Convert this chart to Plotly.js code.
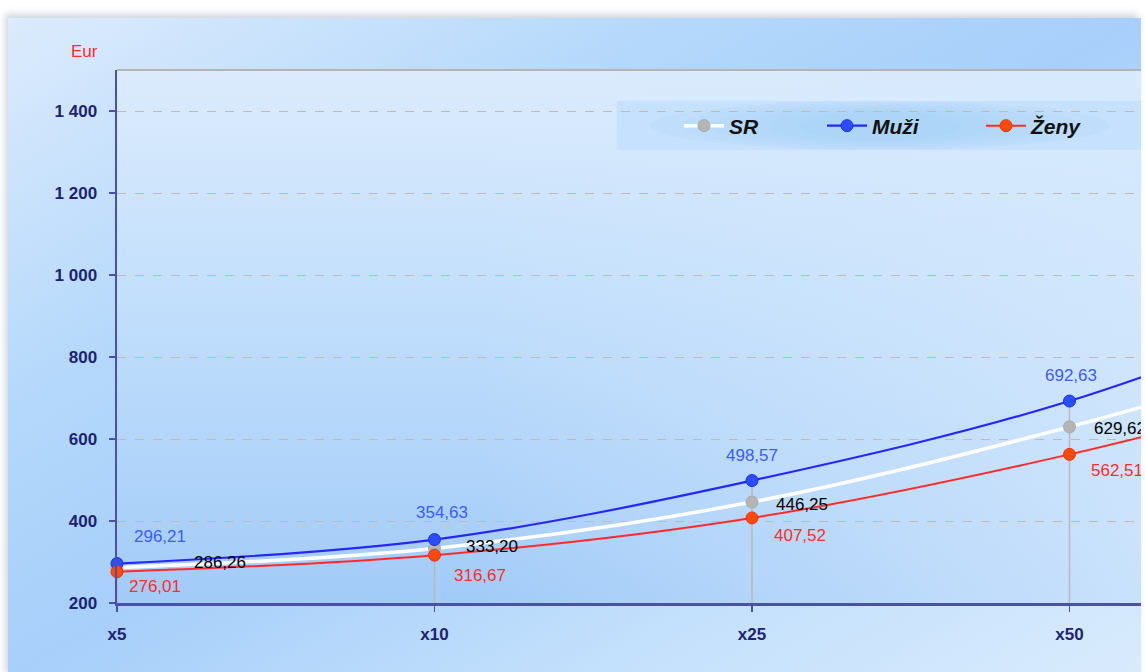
<!DOCTYPE html>
<html>
<head>
<meta charset="utf-8">
<script src="https://cdn.plot.ly/plotly-3.0.1.min.js"></script>
<style>
  html, body { margin: 0; padding: 0; background: #ffffff; overflow: hidden; width: 1145px; height: 672px; }
  #frame {
    position: absolute; left: 8px; top: 18px; width: 1133px; height: 660px; overflow: hidden;
    background: linear-gradient(to bottom right, #dcebfd 0%, #b4d8fb 30%, #a7cffa 50%, #c3e0fc 75%, #d9ebfd 100%);
    box-shadow: -3px -4px 7px rgba(120, 135, 160, 0.35);
  }
  #plotbg {
    position: absolute; left: 109px; top: 52px; width: 1030px; height: 533px;
    background:
      linear-gradient(to right, rgba(214, 233, 253, 0) 35%, rgba(214, 233, 253, 0.75) 100%),
      linear-gradient(to bottom, #dcebfd 0%, #c4e0fc 40%, #a2cbf8 100%);
  }
  #chart { position: absolute; left: -8px; top: -18px; width: 1500px; height: 672px; }
</style>
</head>
<body>
<div id="frame">
  <div id="plotbg"></div>
  <div id="chart"></div>
</div>
<script>
// Wage distribution by percentile, EUR
const categories = ['x5', 'x10', 'x25', 'x50', 'x75'];
const srValues   = [286.26, 333.20, 446.25, 629.62, 855];
const muziValues = [296.21, 354.63, 498.57, 692.63, 978];
const zenyValues = [276.01, 316.67, 407.52, 562.51, 762];
const tickCategories = ['x5', 'x10', 'x25', 'x50'];
const yRange = [200, 1500];

// label offsets in pixels (dx right, dy down) for each series
const muziLabelOffsets = [[43, -27], [7, -27], [0, -25], [1, -26]];
const srLabelOffsets   = [[103, -5], [57, -2], [50, 2], [50, 2]];
const zenyLabelOffsets = [[38, 15], [45, 20], [48, 18], [47, 16]];

const FONT = '"Liberation Sans", Arial, sans-serif';
const NAVY = '#1d2272';

// plot-area geometry in page pixels, used to place paper-referenced items
const W = 1500, H = 672;
const M = { l: 117, r: 113, t: 70, b: 69 };
const plotW = W - M.l - M.r, plotH = H - M.t - M.b;
const px = x => (x - M.l) / plotW;
const py = y => (H - M.b - y) / plotH;

const fmt = v => v.toFixed(2).replace('.', ',');

// drop lines from the highest point of each category down to the axis
const dropX = [], dropY = [];
categories.forEach((c, i) => {
  const top = Math.max(srValues[i], muziValues[i], zenyValues[i]);
  dropX.push(c, c, null);
  dropY.push(top, yRange[0], null);
});

const traces = [
  {
    x: dropX, y: dropY, type: 'scatter', mode: 'lines',
    line: { color: '#b9b9b9', width: 1.5 }, hoverinfo: 'skip', showlegend: false, cliponaxis: false
  },
  {
    name: 'SR', x: categories, y: srValues, type: 'scatter', mode: 'lines+markers',
    line: { color: '#ffffff', width: 3.5, shape: 'spline', smoothing: 1 },
    marker: { color: '#b5b5b5', size: 12, line: { color: '#a8a8a8', width: 1 } },
    cliponaxis: false, legend: 'legend'
  },
  {
    name: 'Muži', x: categories, y: muziValues, type: 'scatter', mode: 'lines+markers',
    line: { color: '#2626ff', width: 2.2, shape: 'spline', smoothing: 1 },
    marker: { color: '#2a4dff', size: 12, line: { color: '#1a2fe0', width: 1 } },
    cliponaxis: false, legend: 'legend2'
  },
  {
    name: 'Ženy', x: categories, y: zenyValues, type: 'scatter', mode: 'lines+markers',
    line: { color: '#ff2b2b', width: 2, shape: 'spline', smoothing: 1 },
    marker: { color: '#ff4a0a', size: 12, line: { color: '#ff2a10', width: 1 } },
    cliponaxis: false, legend: 'legend3'
  }
];

const annotations = [];
function addLabels(values, offsets, color) {
  offsets.forEach((o, i) => {
    annotations.push({
      x: categories[i], y: values[i], xref: 'x', yref: 'y',
      text: fmt(values[i]), showarrow: false,
      xanchor: 'center', yanchor: 'middle',
      xshift: o[0], yshift: -o[1],
      font: { family: FONT, size: 17, color: color }
    });
  });
}
addLabels(muziValues, muziLabelOffsets, '#3d5cff');
addLabels(srValues, srLabelOffsets, '#000000');
addLabels(zenyValues, zenyLabelOffsets, '#ff2b2b');

annotations.push({
  text: 'Eur', xref: 'paper', yref: 'paper', x: px(84), y: py(52),
  xanchor: 'center', yanchor: 'middle', showarrow: false,
  font: { family: FONT, size: 17, color: '#ff2a2a' }
});

const legendFont = { family: FONT, size: 21, color: '#111111', weight: 'bold', style: 'italic' };
function legendAt(markerX) {
  return {
    x: px(markerX - 20), y: py(126), xanchor: 'left', yanchor: 'middle',
    bgcolor: 'rgba(0,0,0,0)', borderwidth: 0, font: legendFont, itemwidth: 40
  };
}

// legend box with a soft deeper glow towards its middle
const shapes = [
  { type: 'rect', xref: 'paper', yref: 'paper', x0: px(617), x1: px(1400), y0: py(150), y1: py(101),
    fillcolor: '#c5e1fd', line: { width: 0 }, layer: 'between' }
];
const glow = [[650, 1110, 150, 101], [680, 1080, 149, 103], [710, 1050, 147, 105],
              [740, 1020, 145, 107], [770, 990, 143, 109], [800, 960, 141, 111]];
glow.forEach(g => shapes.push({
  type: 'circle', xref: 'paper', yref: 'paper', x0: px(g[0]), x1: px(g[1]), y0: py(g[2]), y1: py(g[3]),
  fillcolor: 'rgba(160, 205, 250, 0.12)', line: { width: 0 }, layer: 'between'
}));
// top border of the plot area
shapes.push({ type: 'line', xref: 'paper', yref: 'paper', x0: 0, x1: 1, y0: 1, y1: 1,
  line: { color: '#b4b4b4', width: 2 }, layer: 'above' });

const layout = {
  width: W, height: H,
  margin: M,
  paper_bgcolor: 'rgba(0,0,0,0)',
  plot_bgcolor: 'rgba(0,0,0,0)',
  separators: ', ',
  showlegend: true,
  legend: legendAt(699),
  legend2: legendAt(842),
  legend3: legendAt(1001),
  xaxis: {
    type: 'category', range: [0, categories.length - 1],
    tickmode: 'array', tickvals: tickCategories, ticktext: tickCategories,
    showgrid: false, zeroline: false,
    showline: true, linecolor: '#4b50a8', linewidth: 2.5,
    ticks: 'outside', ticklen: 6, tickwidth: 1.5, tickcolor: '#4b50a8',
    ticklabelstandoff: 8,
    tickfont: { family: FONT, size: 17, color: NAVY, weight: 'bold' }
  },
  yaxis: {
    range: yRange, dtick: 200, tick0: 200,
    separatethousands: true,
    showgrid: true, gridcolor: '#c2b9b0', griddash: 'dash', gridwidth: 1,
    zeroline: false,
    showline: true, linecolor: '#4b50a8', linewidth: 2.5,
    ticks: 'outside', ticklen: 6, tickwidth: 1.5, tickcolor: '#4b50a8',
    ticklabelstandoff: 8,
    tickfont: { family: FONT, size: 17, color: NAVY, weight: 'bold' }
  },
  annotations: annotations,
  shapes: shapes,
  hovermode: false
};

Plotly.newPlot('chart', traces, layout, { displayModeBar: false, staticPlot: true });
</script>
</body>
</html>
